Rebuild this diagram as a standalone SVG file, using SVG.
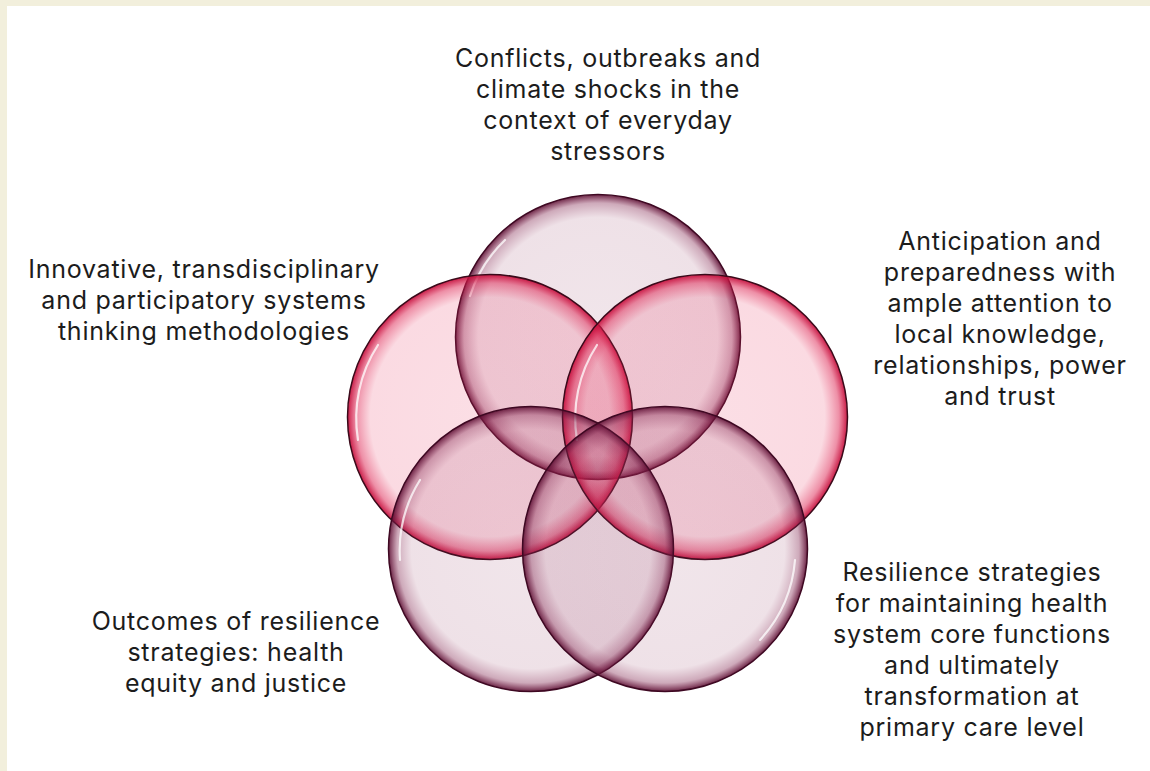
<svg xmlns="http://www.w3.org/2000/svg" width="1150" height="771" viewBox="0 0 1150 771">
  <style>
    .lbl { font-family: Inter, "Liberation Sans", sans-serif; font-size: 25px; letter-spacing: 0.75px; fill: #1c1c1c; text-anchor: middle; }
    .ring { stroke-width: 1.5; }
    .mauve { fill: url(#gMauve); stroke: #3e0822; }
    .red { fill: url(#gRed); stroke: #3a0a1a; }
    .gloss { fill: none; stroke: #ffffff; stroke-width: 2.2; stroke-linecap: round; opacity: 0.75; }
  </style>
  <defs>
    <radialGradient id="gMauve" cx="0.5" cy="0.5" r="0.5">
      <stop offset="0" stop-color="#8a2a55" stop-opacity="0.12"/>
      <stop offset="0.84" stop-color="#8a2a55" stop-opacity="0.14"/>
      <stop offset="0.94" stop-color="#7e1f4a" stop-opacity="0.38"/>
      <stop offset="1" stop-color="#5a0c30" stop-opacity="0.9"/>
    </radialGradient>
    <radialGradient id="gRed" cx="0.5" cy="0.5" r="0.5">
      <stop offset="0" stop-color="#e8335e" stop-opacity="0.16"/>
      <stop offset="0.84" stop-color="#e8335e" stop-opacity="0.18"/>
      <stop offset="0.94" stop-color="#dc1f4e" stop-opacity="0.5"/>
      <stop offset="1" stop-color="#c40f3c" stop-opacity="0.95"/>
    </radialGradient>
  </defs>

  <!-- page frame -->
  <rect x="0" y="0" width="1150" height="771" fill="#ffffff"/>
  <rect x="0" y="0" width="1150" height="6" fill="#f2efdc"/>
  <rect x="0" y="0" width="7" height="771" fill="#f2efdc"/>

  <!-- circles -->
  <g id="circle-top">
    <circle class="ring mauve" cx="598" cy="337" r="142.5"/>
    <path class="gloss" d="M 470 296 A 134 134 0 0 1 505 240"/>
  </g>
  <g id="circle-left">
    <circle class="ring red" cx="490" cy="417" r="142.5"/>
    <path class="gloss" d="M 358 440 A 134 134 0 0 1 378 345"/>
  </g>
  <g id="circle-right">
    <circle class="ring red" cx="705" cy="417" r="142.5"/>
    <path class="gloss" d="M 577 440 A 134 134 0 0 1 597 345"/>
  </g>
  <g id="circle-bottom-left">
    <circle class="ring mauve" cx="531" cy="549" r="142.5"/>
    <path class="gloss" d="M 400 560 A 134 134 0 0 1 420 480"/>
  </g>
  <g id="circle-bottom-right">
    <circle class="ring mauve" cx="665" cy="549" r="142.5"/>
    <path class="gloss" d="M 795 560 A 134 134 0 0 1 760 640"/>
  </g>

  <!-- labels -->
  <g id="label-top">
    <text class="lbl" x="608" y="67">Conflicts, outbreaks and</text>
    <text class="lbl" x="608" y="98">climate shocks in the</text>
    <text class="lbl" x="608" y="129">context of everyday</text>
    <text class="lbl" x="608" y="160">stressors</text>
  </g>
  <g id="label-left">
    <text class="lbl" x="204" y="278">Innovative, transdisciplinary</text>
    <text class="lbl" x="204" y="309">and participatory systems</text>
    <text class="lbl" x="204" y="340">thinking methodologies</text>
  </g>
  <g id="label-right">
    <text class="lbl" x="1000" y="250">Anticipation and</text>
    <text class="lbl" x="1000" y="281">preparedness with</text>
    <text class="lbl" x="1000" y="312">ample attention to</text>
    <text class="lbl" x="1000" y="343">local knowledge,</text>
    <text class="lbl" x="1000" y="374">relationships, power</text>
    <text class="lbl" x="1000" y="405">and trust</text>
  </g>
  <g id="label-bottom-right">
    <text class="lbl" x="972" y="581">Resilience strategies</text>
    <text class="lbl" x="972" y="612">for maintaining health</text>
    <text class="lbl" x="972" y="643">system core functions</text>
    <text class="lbl" x="972" y="674">and ultimately</text>
    <text class="lbl" x="972" y="705">transformation at</text>
    <text class="lbl" x="972" y="736">primary care level</text>
  </g>
  <g id="label-bottom-left">
    <text class="lbl" x="236" y="630">Outcomes of resilience</text>
    <text class="lbl" x="236" y="661">strategies: health</text>
    <text class="lbl" x="236" y="692">equity and justice</text>
  </g>
</svg>
